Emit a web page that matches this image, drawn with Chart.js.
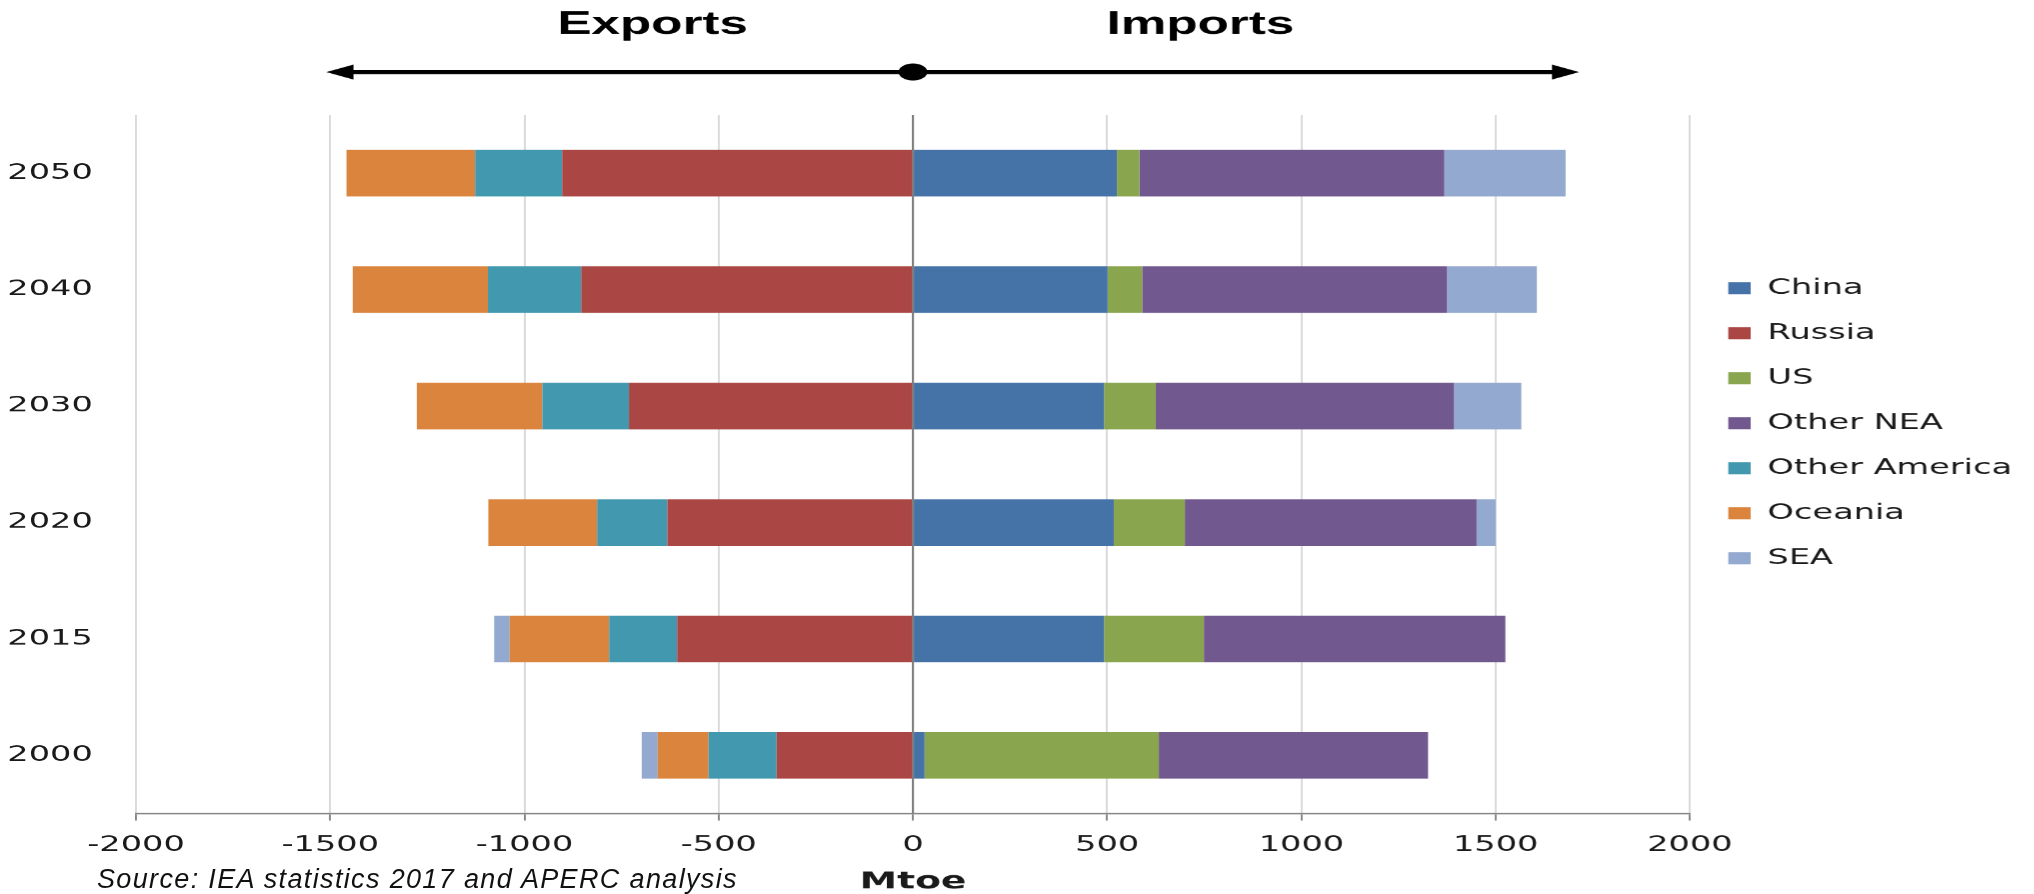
<!DOCTYPE html>
<html>
<head>
<meta charset="utf-8">
<title>Exports and imports by region (Mtoe)</title>
<script src="https://cdn.jsdelivr.net/npm/chart.js@4.4.1/dist/chart.umd.min.js"></script>
<style>
  html, body { margin: 0; padding: 0; background: #fff; overflow: hidden; }
  #stage { position: relative; width: 2034px; height: 894px; }
  /* the original figure is stretched sideways, so draw it narrow and widen it */
  #wrap { position: absolute; left: 0; top: 0; width: 1271.25px; height: 894px;
          transform: scaleX(1.6); transform-origin: 0 0; }
  #source { position: absolute; left: 97px; top: 864px; line-height: 27px; white-space: nowrap;
            font: italic 27px "Liberation Sans", Arial, sans-serif; letter-spacing: 1.35px; color: #111; }
</style>
</head>
<body>
<div id="stage">
  <div id="wrap"><canvas id="chart"></canvas></div>
  <div id="source">Source: IEA statistics 2017 and APERC analysis</div>
</div>
<script>
const STRETCH = 1.6;

// Rows top to bottom
const years = ['2050', '2040', '2030', '2020', '2015', '2000'];

// Mtoe, exports negative, imports positive
const china        = [525, 501, 492, 517, 492, 30];
const russia       = [-903, -854, -731, -632, -607, -351];
const us           = [58, 89, 133, 183, 257, 603];
const otherNEA     = [785, 785, 768, 751, 776, 693];
const otherAmerica = [-224, -240, -223, -181, -175, -175];
const oceania      = [-331, -348, -323, -280, -256, -131];
const sea          = [312, 231, 173, 49, -40, -41];

const seriesNames  = ['China', 'Russia', 'US', 'Other NEA', 'Other America', 'Oceania', 'SEA'];
const seriesValues = [china, russia, us, otherNEA, otherAmerica, oceania, sea];
const seriesColors = ['#4572A7', '#AA4643', '#89A54E', '#71588F', '#4198AF', '#DB843D', '#93A9CF'];

const xMin = -2000, xMax = 2000, xStep = 500;

// Header arrow above the plot, in Mtoe
const arrowSpan = [-1510, 1715];
const headerLabels = ['Exports', 'Imports'];
const headerAt = [-670, 740];

const tickFont = { family: '"DejaVu Sans", Verdana, sans-serif', size: 21 };

const headerPlugin = {
  id: 'header',
  afterDatasetsDraw(chart) {
    const { ctx, chartArea, scales: { x } } = chart;
    const x0 = x.getPixelForValue(0);
    ctx.save();

    // zero line over the bars
    ctx.strokeStyle = '#7f7f7f';
    ctx.lineWidth = 1.3;
    ctx.beginPath();
    ctx.moveTo(x0, chartArea.top);
    ctx.lineTo(x0, chartArea.bottom);
    ctx.stroke();

    // double arrow with a dot at zero
    const y = 72;
    const left = x.getPixelForValue(arrowSpan[0]);
    const right = x.getPixelForValue(arrowSpan[1]);
    const headLen = 17, headHalf = 7.5;
    ctx.strokeStyle = '#000';
    ctx.fillStyle = '#000';
    ctx.lineWidth = 4;
    ctx.beginPath();
    ctx.moveTo(left + headLen - 2, y);
    ctx.lineTo(right - headLen + 2, y);
    ctx.stroke();
    ctx.beginPath();
    ctx.moveTo(left, y);
    ctx.lineTo(left + headLen, y - headHalf);
    ctx.lineTo(left + headLen, y + headHalf);
    ctx.closePath();
    ctx.fill();
    ctx.beginPath();
    ctx.moveTo(right, y);
    ctx.lineTo(right - headLen, y - headHalf);
    ctx.lineTo(right - headLen, y + headHalf);
    ctx.closePath();
    ctx.fill();
    ctx.beginPath();
    ctx.ellipse(x0, y, 9, 8.5, 0, 0, Math.PI * 2);
    ctx.fill();

    ctx.font = 'bold 32px "Liberation Sans", Arial, sans-serif';
    ctx.textAlign = 'center';
    ctx.textBaseline = 'middle';
    headerLabels.forEach((t, i) => ctx.fillText(t, x.getPixelForValue(headerAt[i]), 25));
    ctx.restore();
  }
};

new Chart(document.getElementById('chart'), {
  type: 'bar',
  data: {
    labels: years,
    datasets: seriesNames.map((name, i) => ({
      label: name,
      data: seriesValues[i],
      backgroundColor: seriesColors[i],
      borderWidth: 0,
      categoryPercentage: 1,
      barPercentage: 0.4,
    })),
  },
  options: {
    indexAxis: 'y',
    responsive: true,
    maintainAspectRatio: false,
    animation: false,
    devicePixelRatio: STRETCH,
    layout: { padding: { top: 115, right: 3.5, bottom: 0, left: 0 } },
    plugins: {
      legend: {
        position: 'right',
        align: 'start',
        // empty title only pushes the key down beside the middle rows
        title: { display: true, text: '', padding: { top: 128.5, bottom: 0 }, font: { size: 10, lineHeight: 1 } },
        labels: { boxWidth: 14, boxHeight: 12, padding: 24, color: '#1a1a1a', font: tickFont },
      },
      tooltip: { enabled: true },
    },
    scales: {
      x: {
        stacked: true,
        min: xMin,
        max: xMax,
        ticks: {
          stepSize: xStep,
          color: '#1a1a1a',
          font: tickFont,
          padding: 12,
          callback: v => String(v),
        },
        grid: {
          color: c => (c.tick && c.tick.value === 0 ? '#7f7f7f' : '#d9d9d9'),
          lineWidth: 1.2,
          tickLength: 7,
          tickColor: '#868686',
        },
        border: { color: '#868686', width: 1.5 },
        title: {
          display: true,
          text: 'Mtoe',
          color: '#1a1a1a',
          font: { family: '"DejaVu Sans", Verdana, sans-serif', size: 23.5, weight: 'bold', lineHeight: 1 },
          padding: { top: 1, bottom: 0 },
        },
      },
      y: {
        stacked: true,
        grid: { display: false, drawTicks: false },
        border: { display: false },
        ticks: { color: '#1a1a1a', font: tickFont, padding: 27 },
        afterFit(scale) { scale.width = 85; },
      },
    },
  },
  plugins: [headerPlugin],
});
</script>
</body>
</html>
